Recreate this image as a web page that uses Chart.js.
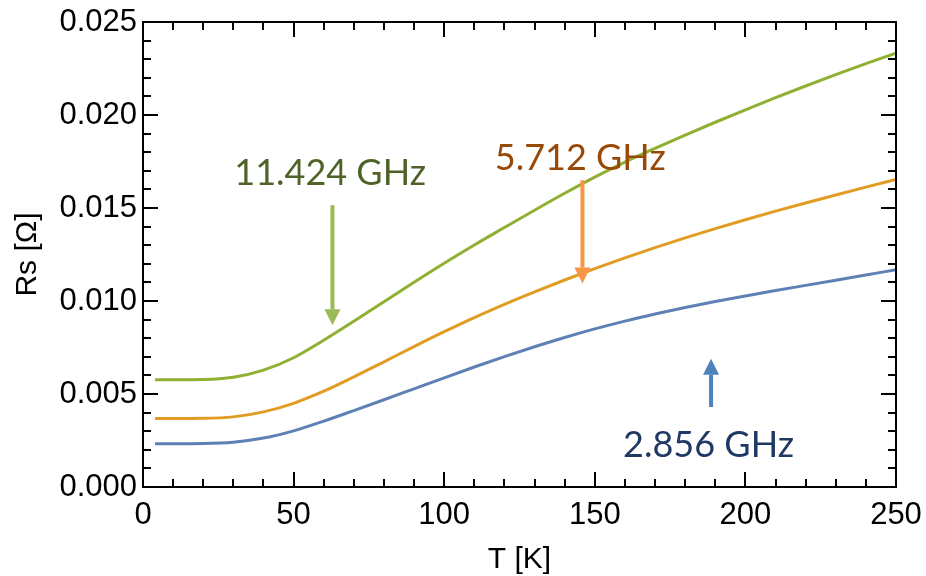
<!DOCTYPE html>
<html>
<head>
<meta charset="utf-8">
<script src="https://cdn.jsdelivr.net/npm/chart.js@4.4.0/dist/chart.umd.min.js"></script>
<style>
  body { margin: 0; background: #fff; }
  #grafico { display: block; }
</style>
</head>
<body>
<canvas id="grafico" width="926" height="576"></canvas>
<script>
// Temperatura [K]
const temperaturas = [4, 10, 20, 30, 40, 50, 60, 70, 80, 90, 100, 110, 120, 130, 140, 150, 160, 170, 180, 190, 200, 210, 220, 230, 240, 250];

// Resistência superficial Rs [Ω] para cada frequência
const rs11424 = [0.00577, 0.00577, 0.00578, 0.00590, 0.00628, 0.00695, 0.00789, 0.00891, 0.00996, 0.01101, 0.01203, 0.01301, 0.01395, 0.01488, 0.01579, 0.01666, 0.01747, 0.01821, 0.01892, 0.01961, 0.02028, 0.02093, 0.02156, 0.02217, 0.02276, 0.02333];
const rs5712  = [0.00368, 0.00368, 0.00369, 0.00377, 0.00404, 0.00450, 0.00515, 0.00592, 0.00673, 0.00755, 0.00835, 0.00911, 0.00982, 0.01049, 0.01113, 0.01174, 0.01232, 0.01287, 0.01339, 0.01389, 0.01437, 0.01483, 0.01527, 0.01570, 0.01612, 0.01653];
const rs2856  = [0.00233, 0.00233, 0.00234, 0.00241, 0.00263, 0.00302, 0.00354, 0.00411, 0.00469, 0.00528, 0.00587, 0.00645, 0.00701, 0.00754, 0.00804, 0.00850, 0.00892, 0.00930, 0.00965, 0.00997, 0.01027, 0.01056, 0.01084, 0.01112, 0.01140, 0.01168];

const ticksX = [0, 50, 100, 150, 200, 250];
const ticksY = [0, 0.005, 0.010, 0.015, 0.020, 0.025];

// rótulos das curvas (canto esquerdo / linha de base, em T e Rs)
const rotulos = [
  { texto: '11.424 GHz', t: 30.3, rs: 0.01622, cor: '#4f6228' },
  { texto: '5.712 GHz', t: 116.8, rs: 0.01703, cor: '#984807' },
  { texto: '2.856 GHz', t: 159.4, rs: 0.00161, cor: '#1f3864' }
];

// setas verticais: de (cauda) até (ponta)
const setas = [
  { t: 62.9, de: 0.01515, ate: 0.00869, cor: '#9bbb59' },
  { t: 145.9, de: 0.01649, ate: 0.01094, cor: '#f79646' },
  { t: 188.6, de: 0.00430, ate: 0.00690, cor: '#4f81bd' }
];

const fonteEixo = "'Liberation Sans', Arial, sans-serif";
const fonteRotulo = "Lato, 'Open Sans', sans-serif";

function pontos(valores) {
  return temperaturas.map((t, i) => ({ x: t, y: valores[i] }));
}

function serie(valores, cor) {
  return {
    data: pontos(valores),
    borderColor: cor,
    borderWidth: 3,
    pointRadius: 0,
    fill: false,
    cubicInterpolationMode: 'monotone'
  };
}

// moldura com marcas internas nos quatro lados
const moldura = {
  id: 'moldura',
  afterDraw(chart) {
    const { ctx, chartArea: { left, right, top, bottom } } = chart;
    const xs = chart.scales.x, ys = chart.scales.y;
    ctx.save();
    ctx.strokeStyle = '#000';
    ctx.lineWidth = 2;
    ctx.strokeRect(left, top, right - left, bottom - top);
    ctx.beginPath();
    for (let i = 0; i <= 25; i++) {
      const px = Math.round(xs.getPixelForValue(i * 10));
      const len = i % 5 === 0 ? 15 : 8;
      ctx.moveTo(px, bottom); ctx.lineTo(px, bottom - len);
      ctx.moveTo(px, top); ctx.lineTo(px, top + len);
    }
    for (let i = 0; i <= 25; i++) {
      const py = Math.round(ys.getPixelForValue(i * 0.001));
      const len = i % 5 === 0 ? 15 : 8;
      ctx.moveTo(left, py); ctx.lineTo(left + len, py);
      ctx.moveTo(right, py); ctx.lineTo(right - len, py);
    }
    ctx.stroke();
    ctx.restore();
  }
};

// rótulos de frequência e setas
const anotacoes = {
  id: 'anotacoes',
  afterDatasetsDraw(chart) {
    const { ctx } = chart;
    const xs = chart.scales.x, ys = chart.scales.y;
    ctx.save();
    setas.forEach(s => {
      const x = xs.getPixelForValue(s.t);
      const y0 = ys.getPixelForValue(s.de);
      const y1 = ys.getPixelForValue(s.ate);
      const dir = y1 > y0 ? 1 : -1;
      const cab = 16;
      ctx.strokeStyle = s.cor;
      ctx.fillStyle = s.cor;
      ctx.lineWidth = 4;
      ctx.beginPath();
      ctx.moveTo(x, y0);
      ctx.lineTo(x, y1 - dir * cab);
      ctx.stroke();
      ctx.beginPath();
      ctx.moveTo(x, y1);
      ctx.lineTo(x - 8, y1 - dir * cab);
      ctx.lineTo(x + 8, y1 - dir * cab);
      ctx.closePath();
      ctx.fill();
    });
    ctx.font = '36px ' + fonteRotulo;
    ctx.textBaseline = 'alphabetic';
    ctx.textAlign = 'left';
    rotulos.forEach(r => {
      ctx.fillStyle = r.cor;
      ctx.fillText(r.texto, xs.getPixelForValue(r.t), ys.getPixelForValue(r.rs));
    });
    ctx.restore();
  }
};

new Chart(document.getElementById('grafico'), {
  type: 'line',
  data: {
    datasets: [
      serie(rs2856, '#5e81b5'),
      serie(rs5712, '#e19c24'),
      serie(rs11424, '#8fb032')
    ]
  },
  options: {
    responsive: false,
    animation: false,
    layout: { padding: { top: 22, right: 30, left: 0, bottom: 0 } },
    plugins: { legend: { display: false }, tooltip: { enabled: false } },
    scales: {
      x: {
        type: 'linear',
        min: 0,
        max: 250,
        afterBuildTicks: s => { s.ticks = ticksX.map(v => ({ value: v })); },
        afterFit: s => { s.height = 89; s.paddingLeft = 0; s.paddingRight = 0; },
        grid: { display: false, drawTicks: false },
        border: { display: false },
        ticks: {
          padding: 10,
          color: '#000',
          font: { family: fonteEixo, size: 31 },
          maxRotation: 0
        },
        title: {
          display: true,
          text: 'T [K]',
          color: '#000',
          font: { family: fonteEixo, size: 30, lineHeight: 1 },
          padding: { top: 0, bottom: 1 }
        }
      },
      y: {
        min: 0,
        max: 0.025,
        afterBuildTicks: s => { s.ticks = ticksY.map(v => ({ value: v })); },
        afterFit: s => { s.width = 143; s.paddingTop = 0; s.paddingBottom = 0; },
        grid: { display: false, drawTicks: false },
        border: { display: false },
        ticks: {
          padding: 6,
          color: '#000',
          font: { family: fonteEixo, size: 31 },
          callback: v => v.toFixed(3)
        },
        title: {
          display: true,
          text: 'Rs [Ω]',
          color: '#000',
          font: { family: fonteEixo, size: 30, lineHeight: 1 },
          padding: { top: 13, bottom: 0 }
        }
      }
    }
  },
  plugins: [moldura, anotacoes]
});
</script>
</body>
</html>
